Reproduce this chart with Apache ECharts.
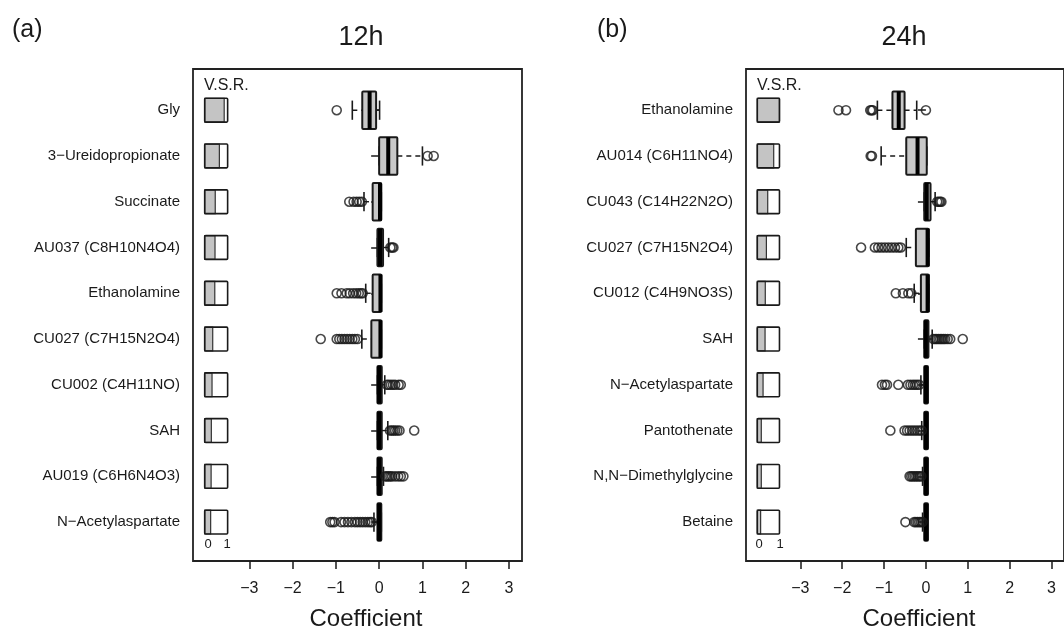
<!DOCTYPE html>
<html>
<head>
<meta charset="utf-8">
<script src="https://cdn.jsdelivr.net/npm/echarts@6/dist/echarts.min.js"></script>
<style>
html, body { margin: 0; padding: 0; background: #fff; }
#chart { width: 1064px; height: 629px; }
</style>
</head>
<body>
<div id="chart"></div>
<script>
// row names, top to bottom
var names12 = ['Gly', '3\u2212Ureidopropionate', 'Succinate', 'AU037 (C8H10N4O4)', 'Ethanolamine',
	'CU027 (C7H15N2O4)', 'CU002 (C4H11NO)', 'SAH', 'AU019 (C6H6N4O3)', 'N\u2212Acetylaspartate'];
var names24 = ['Ethanolamine', 'AU014 (C6H11NO4)', 'CU043 (C14H22N2O)', 'CU027 (C7H15N2O4)', 'CU012 (C4H9NO3S)',
	'SAH', 'N\u2212Acetylaspartate', 'Pantothenate', 'N,N\u2212Dimethylglycine', 'Betaine'];

// V.S.R. (0..1)
var vsr12 = [0.85, 0.64, 0.46, 0.45, 0.44, 0.35, 0.32, 0.29, 0.28, 0.26];
var vsr24 = [1.0, 0.74, 0.47, 0.41, 0.36, 0.35, 0.26, 0.18, 0.18, 0.15];

// box stats: [low whisker, q1, median, q3, high whisker]
var box12 = [
	[-0.62, -0.39, -0.22, -0.07, 0.01],
	[0.0, 0.0, 0.21, 0.42, 1.0],
	[-0.35, -0.15, 0.02, 0.05, 0.05],
	[-0.04, -0.04, 0.02, 0.09, 0.22],
	[-0.31, -0.15, 0.03, 0.05, 0.05],
	[-0.40, -0.18, 0.03, 0.05, 0.05],
	[-0.04, -0.04, 0.0, 0.06, 0.13],
	[-0.04, -0.04, 0.0, 0.06, 0.20],
	[-0.04, -0.04, 0.0, 0.06, 0.10],
	[-0.12, -0.04, 0.0, 0.05, 0.05]
];
var box24 = [
	[-1.16, -0.80, -0.65, -0.51, -0.22],
	[-1.07, -0.47, -0.20, 0.02, 0.02],
	[-0.04, -0.04, 0.02, 0.11, 0.22],
	[-0.47, -0.24, 0.04, 0.07, 0.07],
	[-0.28, -0.12, 0.04, 0.07, 0.07],
	[-0.04, -0.04, 0.0, 0.06, 0.15],
	[-0.12, -0.04, 0.0, 0.05, 0.05],
	[-0.10, -0.04, 0.0, 0.05, 0.05],
	[-0.08, -0.04, 0.0, 0.05, 0.05],
	[-0.08, -0.04, 0.0, 0.05, 0.05]
];

// outliers per row
var out12 = [
	[-0.98],
	[1.12, 1.26],
	[-0.69, -0.59, -0.52, -0.46, -0.40],
	[0.26, 0.30, 0.33],
	[-0.98, -0.87, -0.75, -0.68, -0.60, -0.53, -0.47, -0.42, -0.38],
	[-1.35, -0.98, -0.92, -0.86, -0.80, -0.74, -0.68, -0.62, -0.56, -0.50],
	[0.18, 0.22, 0.27, 0.32, 0.37, 0.45, 0.50],
	[0.25, 0.29, 0.33, 0.37, 0.42, 0.47, 0.81],
	[0.14, 0.18, 0.22, 0.26, 0.30, 0.37, 0.44, 0.50, 0.56],
	[-1.13, -1.08, -1.03, -0.88, -0.80, -0.72, -0.64, -0.56, -0.50, -0.44, -0.38, -0.32, -0.26, -0.21, -0.17]
];
var out24 = [
	[-2.09, -1.91, -1.33, -1.30, -1.27, 0.0],
	[-1.32, -1.29],
	[0.27, 0.31, 0.34, 0.37],
	[-1.55, -1.22, -1.14, -1.06, -0.98, -0.90, -0.82, -0.74, -0.66, -0.60],
	[-0.72, -0.55, -0.42, -0.35],
	[0.18, 0.22, 0.26, 0.30, 0.34, 0.38, 0.42, 0.46, 0.52, 0.58, 0.88],
	[-1.05, -0.98, -0.93, -0.66, -0.43, -0.37, -0.31, -0.26, -0.21, -0.16],
	[-0.85, -0.51, -0.45, -0.39, -0.33, -0.27, -0.21, -0.15, -0.10],
	[-0.39, -0.35, -0.31, -0.27, -0.23, -0.19, -0.15, -0.11],
	[-0.49, -0.28, -0.24, -0.20, -0.16, -0.12, -0.08]
];

var xTicks = [-3, -2, -1, 0, 1, 2, 3];
var rowTicks = [1, 2, 3, 4, 5, 6, 7, 8, 9, 10];

var FONT = 'Liberation Sans, Arial, Helvetica, sans-serif';
var INK = '#1a1a1a';

function boxData(stats) {
	return stats.map(function(s, i) { return [i + 1].concat(s); });
}
function outData(outs) {
	var d = [];
	outs.forEach(function(arr, i) {
		arr.forEach(function(v) { d.push([v, i + 1]); });
	});
	return d;
}
function vsrData(v) {
	return v.map(function(f, i) { return [i + 1, f]; });
}

function renderBox(params, api) {
	var row = api.value(0);
	var lo = api.coord([api.value(1), row]);
	var q1 = api.coord([api.value(2), row]);
	var md = api.coord([api.value(3), row]);
	var q3 = api.coord([api.value(4), row]);
	var hi = api.coord([api.value(5), row]);
	var y = lo[1];
	var bh = api.size([0, 0.82])[1];
	var ch = api.size([0, 0.42])[1];
	var dash = { stroke: INK, lineWidth: 1.4, lineDash: [5, 4] };
	var solid = { stroke: INK, lineWidth: 1.6 };
	return {
		type: 'group',
		children: [
			{ type: 'line', shape: { x1: lo[0], y1: y, x2: q1[0], y2: y }, style: dash },
			{ type: 'line', shape: { x1: q3[0], y1: y, x2: hi[0], y2: y }, style: dash },
			{ type: 'line', shape: { x1: lo[0], y1: y - ch / 2, x2: lo[0], y2: y + ch / 2 }, style: solid },
			{ type: 'line', shape: { x1: hi[0], y1: y - ch / 2, x2: hi[0], y2: y + ch / 2 }, style: solid },
			{ type: 'rect', shape: { x: q1[0], y: y - bh / 2, width: q3[0] - q1[0], height: bh, r: 1 },
				style: { fill: '#c8c8c8', stroke: INK, lineWidth: 2 } },
			{ type: 'line', shape: { x1: md[0], y1: y - bh / 2, x2: md[0], y2: y + bh / 2 },
				style: { stroke: '#000', lineWidth: 4 } }
		]
	};
}

function renderVsr(params, api) {
	var row = api.value(0);
	var f = api.value(1);
	var a = api.coord([-4.03, row]);
	var b = api.coord([-3.50, row]);
	var h = api.size([0, 0.52])[1];
	var w = b[0] - a[0];
	return {
		type: 'group',
		children: [
			{ type: 'rect', shape: { x: a[0], y: a[1] - h / 2, width: w * f, height: h },
				style: { fill: '#c4c4c4', stroke: '#333', lineWidth: 1.2 } },
			{ type: 'rect', shape: { x: a[0], y: a[1] - h / 2, width: w, height: h, r: 1 },
				style: { fill: 'none', stroke: INK, lineWidth: 1.6 } }
		]
	};
}

function xAxisFor(idx) {
	return {
		type: 'value', gridIndex: idx, min: -4.3, max: 3.3,
		axisLine: { show: false },
		splitLine: { show: false },
		axisTick: { show: true, customValues: xTicks, length: 8, lineStyle: { color: INK, width: 1.5 } },
		axisLabel: {
			customValues: xTicks, margin: 20, fontSize: 16, color: INK, fontFamily: FONT,
			formatter: function(v) { return String(v).replace('-', '\u2212'); }
		}
	};
}
function yAxisFor(idx, names) {
	return {
		type: 'value', gridIndex: idx, inverse: true, min: 0.1, max: 10.85,
		axisLine: { show: false },
		splitLine: { show: false },
		axisTick: { show: true, customValues: rowTicks, length: 8, lineStyle: { color: INK, width: 1.5 } },
		axisLabel: {
			customValues: rowTicks, margin: 13, fontSize: 15, color: INK, fontFamily: FONT,
			formatter: function(v) { return names[Math.round(v) - 1]; }
		}
	};
}

function txt(s, x, y, size, align) {
	return {
		type: 'text', x: x, y: y,
		style: { text: s, fontSize: size, fontFamily: FONT, fill: INK, textAlign: align || 'center', textVerticalAlign: 'middle' }
	};
}

var option = {
	backgroundColor: '#fff',
	animation: false,
	grid: [
		{ left: 193, top: 69, width: 329, height: 492, show: true, borderColor: '#222', borderWidth: 1.8 },
		{ left: 746, top: 69, width: 329, height: 492, show: true, borderColor: '#222', borderWidth: 1.8 }
	],
	xAxis: [xAxisFor(0), xAxisFor(1)],
	yAxis: [yAxisFor(0, names12), yAxisFor(1, names24)],
	series: [
		{ type: 'custom', xAxisIndex: 0, yAxisIndex: 0, renderItem: renderVsr, data: vsrData(vsr12), encode: { x: 1, y: 0 } },
		{ type: 'custom', xAxisIndex: 0, yAxisIndex: 0, renderItem: renderBox, data: boxData(box12), encode: { x: [1, 2, 3, 4, 5], y: 0 } },
		{ type: 'scatter', xAxisIndex: 0, yAxisIndex: 0, data: outData(out12), symbol: 'circle', symbolSize: 9,
			itemStyle: { color: 'rgba(0,0,0,0)', borderColor: INK, borderWidth: 1.6 } },
		{ type: 'custom', xAxisIndex: 1, yAxisIndex: 1, renderItem: renderVsr, data: vsrData(vsr24), encode: { x: 1, y: 0 } },
		{ type: 'custom', xAxisIndex: 1, yAxisIndex: 1, renderItem: renderBox, data: boxData(box24), encode: { x: [1, 2, 3, 4, 5], y: 0 } },
		{ type: 'scatter', xAxisIndex: 1, yAxisIndex: 1, data: outData(out24), symbol: 'circle', symbolSize: 9,
			itemStyle: { color: 'rgba(0,0,0,0)', borderColor: INK, borderWidth: 1.6 } }
	],
	graphic: [
		txt('(a)', 12, 30, 25, 'left'),
		txt('12h', 361, 38, 27),
		txt('(b)', 597, 30, 25, 'left'),
		txt('24h', 904, 38, 27),
		txt('Coefficient', 366, 619, 24),
		txt('Coefficient', 919, 619, 24),
		txt('V.S.R.', 204, 86, 16, 'left'),
		txt('V.S.R.', 757, 86, 16, 'left'),
		txt('0', 208, 544, 13),
		txt('1', 227, 544, 13),
		txt('0', 759, 544, 13),
		txt('1', 780, 544, 13)
	]
};

var chart = echarts.init(document.getElementById('chart'));
chart.setOption(option);
</script>
</body>
</html>
